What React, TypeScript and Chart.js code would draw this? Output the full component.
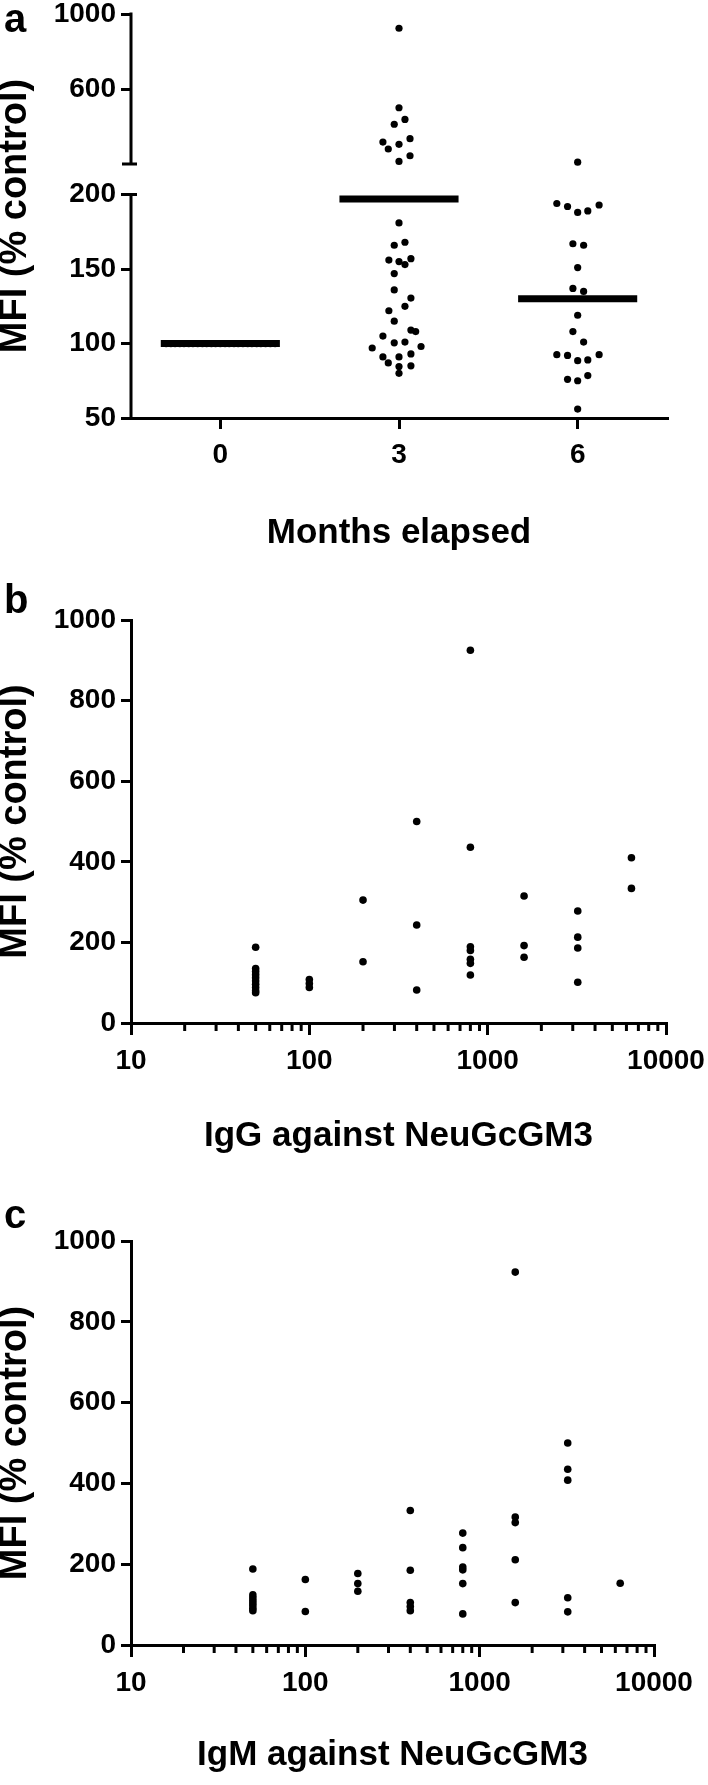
import React, { useEffect, useRef } from 'react';
import { Chart, registerables, LinearScale } from 'chart.js';

Chart.register(...registerables);

// ---------------- data ----------------
// Panel a: MFI (% control) by months elapsed
const monthCategories = [0, 3, 6];
const monthTickLabels = ['0', '3', '6'];
const monthMeans = [100, 197, 130];

const month0Values = [100, 100, 100, 100, 100, 100, 100, 100, 100, 100, 100, 100, 100, 100, 100, 100, 100, 100, 100, 100, 100, 100, 100, 100, 100];
const month0Offsets = [-0.91, -0.83, -0.76, -0.68, -0.61, -0.53, -0.46, -0.38, -0.3, -0.23, -0.15, -0.08, 0, 0.08, 0.15, 0.23, 0.3, 0.38, 0.46, 0.53, 0.61, 0.68, 0.76, 0.84, 0.92];

const month3Values = [924, 500, 412, 438, 317, 280, 305, 335, 214, 244,
  181, 166, 168, 156, 155, 153, 157, 147, 136, 130.5, 125, 122, 115, 109, 108, 105, 100.5, 101, 97, 98, 91, 87, 91, 93, 84.5, 85, 80];
const month3Offsets = [0, 0, -0.08, 0.1, -0.27, -0.18, 0, 0.185, 0, 0.185,
  0, -0.08, 0.1, -0.17, 0, 0.1, 0.2, -0.08, -0.08, 0.2, 0.1, -0.17, -0.08, 0.2, 0.28, -0.27, -0.08, 0.1, -0.45, 0.37, -0.27, -0.18, 0, 0.2, 0, 0.2, 0];

const month6Values = [210, 194, 192, 188, 189, 193, 167, 166, 151, 137, 135, 119, 108, 101, 92.5, 92, 88.5, 89, 92.5, 76, 75, 78.5, 56];
const month6Offsets = [0, -0.35, -0.17, 0, 0.17, 0.36, -0.08, 0.1, 0, -0.08, 0.1, 0, -0.08, 0.1, -0.35, -0.17, 0, 0.17, 0.36, -0.17, 0, 0.17, 0];

const brokenYTicks = [50, 100, 150, 200, 600, 1000];

// Panels b and c
const mfiTicks = [0, 200, 400, 600, 800, 1000];
const titreTicks = [10, 100, 1000, 10000];
const titreMinorTicks = [20, 30, 40, 50, 60, 70, 80, 90, 200, 300, 400, 500, 600, 700, 800, 900, 2000, 3000, 4000, 5000, 6000, 7000, 8000, 9000];

const iggTitre = [50, 50, 50, 50, 50, 50, 50, 50, 50, 50, 100, 100, 100, 200, 200, 400, 400, 400, 800, 800, 800, 800, 800, 800, 800, 1600, 1600, 1600, 3200, 3200, 3200, 3200, 6400, 6400];
const iggMfi = [188, 135, 128, 120, 112, 104, 96, 88, 80, 75, 108, 98, 88, 305, 152, 500, 243, 82, 925, 436, 189, 180, 158, 148, 119, 315, 192, 163, 278, 213, 186, 101, 410, 334];

const igmTitre = [50, 50, 50, 50, 50, 50, 50, 50, 100, 100, 200, 200, 200, 400, 400, 400, 400, 400, 800, 800, 800, 800, 800, 800, 1600, 1600, 1600, 1600, 1600, 3200, 3200, 3200, 3200, 3200, 6400];
const igmMfi = [188, 124, 117, 110, 104, 98, 91, 85, 162, 83, 177, 152, 133, 333, 185, 105, 95, 85, 277, 241, 193, 186, 152, 77, 923, 317, 303, 211, 105, 500, 435, 408, 117, 82, 153];

// ---------------- styling / layout constants ----------------
const FONT = "'Liberation Sans', Arial, Helvetica, sans-serif";
const tickFont = { family: FONT, size: 28, weight: 'bold' as const };
const yTitleFont = { family: FONT, size: 38, weight: 'bold' as const, lineHeight: 0.83 };
const xTitleFont = { family: FONT, size: 35, weight: 'bold' as const };
const BLACK = '#000';
const MEAN_HALF_WIDTH = 1;
// broken-axis geometry (fractions of the axis height)
const BRK = { lowMin: 50, lowMax: 200, highMin: 200, highMax: 1000, lowFrac: 0.553, highFrac: 0.3713 };

class BrokenLinearScale extends LinearScale {
  static id = 'brokenLinear';
  static defaults = {};
  buildTicks() {
    return brokenYTicks.map((v) => ({ value: v }));
  }
  getPixelForValue(value: any) {
    if (value === null || value === undefined || isNaN(value)) return NaN;
    const h = this.bottom - this.top;
    if (value <= BRK.lowMax) {
      const lowH = h * BRK.lowFrac;
      return this.bottom - ((value - BRK.lowMin) / (BRK.lowMax - BRK.lowMin)) * lowH;
    }
    const highH = h * BRK.highFrac;
    return this.top + ((BRK.highMax - value) / (BRK.highMax - BRK.highMin)) * highH;
  }
  getValueForPixel(pixel: number) {
    const h = this.bottom - this.top;
    const lowTop = this.bottom - h * BRK.lowFrac;
    if (pixel >= lowTop) {
      return BRK.lowMin + ((this.bottom - pixel) / (h * BRK.lowFrac)) * (BRK.lowMax - BRK.lowMin);
    }
    return BRK.highMax - ((pixel - this.top) / (h * BRK.highFrac)) * (BRK.highMax - BRK.highMin);
  }
}
Chart.register(BrokenLinearScale as any);

const panelLabelPlugin = {
  id: 'panelLabel',
  afterDraw(chart: any, _args: any, opts: any) {
    if (!opts || !opts.text) return;
    const ctx = chart.ctx;
    ctx.save();
    ctx.fillStyle = BLACK;
    ctx.font = `bold 40px ${FONT}`;
    ctx.textBaseline = 'alphabetic';
    ctx.textAlign = 'left';
    ctx.fillText(opts.text, opts.x, opts.y);
    ctx.restore();
  },
};

const brokenAxisPlugin = {
  id: 'brokenAxis',
  afterDraw(chart: any) {
    const s = chart.scales.y;
    const ctx = chart.ctx;
    const x = s.right;
    const highBottom = s.top + (s.bottom - s.top) * BRK.highFrac;
    const lowTop = s.getPixelForValue(BRK.lowMax);
    ctx.save();
    ctx.strokeStyle = BLACK;
    ctx.lineWidth = 3;
    ctx.lineCap = 'butt';
    ctx.beginPath();
    ctx.moveTo(x, s.top - 1.5);
    ctx.lineTo(x, highBottom + 1.5);
    ctx.moveTo(x, lowTop - 1.5);
    ctx.lineTo(x, s.bottom + 1.5);
    ctx.moveTo(x - 9, highBottom);
    ctx.lineTo(x + 6, highBottom);
    ctx.moveTo(x, lowTop);
    ctx.lineTo(x + 6, lowTop);
    ctx.stroke();
    ctx.restore();
  },
};

const minorTickPlugin = {
  id: 'minorTicks',
  afterDraw(chart: any) {
    const s = chart.scales.x;
    const ctx = chart.ctx;
    ctx.save();
    ctx.strokeStyle = BLACK;
    ctx.lineWidth = 3;
    for (const v of titreMinorTicks) {
      const px = s.getPixelForValue(v);
      ctx.beginPath();
      ctx.moveTo(px, s.top + 1);
      ctx.lineTo(px, s.top + 8);
      ctx.stroke();
    }
    ctx.restore();
  },
};

function yTitle() {
  return { display: true, text: 'MFI (% control)', font: yTitleFont, color: BLACK, padding: 0 };
}

function panelAConfig(): any {
  const groups = [
    { values: month0Values, offsets: month0Offsets },
    { values: month3Values, offsets: month3Offsets },
    { values: month6Values, offsets: month6Offsets },
  ];
  const meanSets = monthCategories.map((c, i) => ({
    type: 'line',
    data: [
      { x: c - MEAN_HALF_WIDTH, y: monthMeans[i] },
      { x: c + MEAN_HALF_WIDTH, y: monthMeans[i] },
    ],
    borderColor: BLACK,
    borderWidth: 7,
    borderCapStyle: 'butt',
    pointRadius: 0,
    fill: false,
    clip: false,
  }));
  const dotSets = groups.map((g, gi) => ({
    type: 'scatter',
    data: g.values.map((v, i) => ({ x: monthCategories[gi] + g.offsets[i], y: v })),
    backgroundColor: BLACK,
    borderColor: BLACK,
    pointRadius: 3.6,
    pointBorderWidth: 0,
    clip: false,
  }));
  return {
    type: 'scatter',
    data: { datasets: [...meanSets, ...dotSets] },
    options: {
      responsive: false,
      animation: false,
      layout: { padding: { top: 14, right: 41, left: 0, bottom: 0 } },
      plugins: { legend: { display: false }, tooltip: { enabled: false }, panelLabel: { text: 'a', x: 4, y: 32 } },
      scales: {
        x: {
          type: 'linear',
          min: -1.5,
          max: 7.5,
          afterBuildTicks: (s: any) => {
            s.ticks = monthCategories.map((v) => ({ value: v }));
          },
          ticks: {
            font: tickFont,
            color: BLACK,
            padding: 9,
            autoSkip: false,
            maxRotation: 0,
            callback: (v: number) => monthTickLabels[monthCategories.indexOf(v)] ?? '',
          },
          grid: { drawOnChartArea: false, tickLength: 11, tickWidth: 3, tickColor: BLACK, lineWidth: 3 },
          border: { display: true, width: 3, color: BLACK },
          title: { display: true, text: 'Months elapsed', font: xTitleFont, color: BLACK, padding: { top: 0, bottom: 5.5 } },
          afterFit: (s: any) => {
            s.height = 142;
            s.paddingLeft = 0;
            s.paddingRight = 0;
          },
        },
        y: {
          type: 'brokenLinear',
          min: 50,
          max: 1000,
          border: { display: false },
          grid: { drawOnChartArea: false, tickLength: 10, tickWidth: 3, tickColor: BLACK, lineWidth: 3 },
          ticks: { font: tickFont, color: BLACK, padding: 5, autoSkip: false, callback: (v: number) => String(v) },
          title: yTitle(),
          afterFit: (s: any) => {
            s.width = 131;
            s.paddingTop = 0;
            s.paddingBottom = 0;
          },
        },
      },
    },
    plugins: [brokenAxisPlugin, panelLabelPlugin],
  };
}

function logPanelConfig(
  titre: number[],
  mfi: number[],
  xTitle: string,
  label: string,
  labelY: number,
  padTop: number,
  padRight: number,
  xHeight: number,
  titlePadBottom: number
): any {
  return {
    type: 'scatter',
    data: {
      datasets: [
        {
          data: titre.map((t, i) => ({ x: t, y: mfi[i] })),
          backgroundColor: BLACK,
          borderColor: BLACK,
          pointRadius: 3.8,
          pointBorderWidth: 0,
          clip: false,
        },
      ],
    },
    options: {
      responsive: false,
      animation: false,
      layout: { padding: { top: padTop, right: padRight, left: 0, bottom: 0 } },
      plugins: { legend: { display: false }, tooltip: { enabled: false }, panelLabel: { text: label, x: 4, y: labelY } },
      scales: {
        x: {
          type: 'logarithmic',
          min: 10,
          max: 10000,
          afterBuildTicks: (s: any) => {
            s.ticks = [...titreTicks, ...titreMinorTicks]
              .sort((a, b) => a - b)
              .map((v) => ({ value: v, major: titreTicks.includes(v) }));
          },
          ticks: {
            font: tickFont,
            color: BLACK,
            padding: 9,
            autoSkip: false,
            maxRotation: 0,
            callback: (v: number) => (titreTicks.includes(v) ? String(v) : ''),
          },
          grid: {
            drawOnChartArea: false,
            tickLength: 12,
            tickWidth: 3,
            lineWidth: 3,
            tickColor: (ctx: any) => (ctx.tick && titreTicks.includes(ctx.tick.value) ? BLACK : 'rgba(0,0,0,0)'),
          },
          border: { display: true, width: 3, color: BLACK },
          title: { display: true, text: xTitle, font: xTitleFont, color: BLACK, padding: { top: 0, bottom: titlePadBottom } },
          afterFit: (s: any) => {
            s.height = xHeight;
            s.paddingLeft = 0;
            s.paddingRight = 0;
          },
        },
        y: {
          type: 'linear',
          min: 0,
          max: 1000,
          afterBuildTicks: (s: any) => {
            s.ticks = mfiTicks.map((v) => ({ value: v }));
          },
          border: { display: true, width: 3, color: BLACK },
          grid: { drawOnChartArea: false, tickLength: 10, tickWidth: 3, tickColor: BLACK, lineWidth: 3 },
          ticks: { font: tickFont, color: BLACK, padding: 5, autoSkip: false, callback: (v: number) => String(v) },
          title: yTitle(),
          afterFit: (s: any) => {
            s.width = 131;
            s.paddingTop = 0;
            s.paddingBottom = 0;
          },
        },
      },
    },
    plugins: [minorTickPlugin, panelLabelPlugin],
  };
}

function ChartCanvas({ top, height, makeConfig }: { top: number; height: number; makeConfig: () => any }) {
  const ref = useRef<HTMLCanvasElement | null>(null);
  useEffect(() => {
    if (!ref.current) return;
    const chart = new Chart(ref.current, makeConfig());
    return () => chart.destroy();
  }, []);
  return (
    <canvas
      ref={ref}
      width={708}
      height={height}
      style={{ position: 'absolute', left: 0, top, width: 708, height, display: 'block' }}
    />
  );
}

export default function App() {
  return (
    <div style={{ position: 'absolute', left: 0, top: 0, width: 708, height: 1785, background: '#fff', overflow: 'hidden' }}>
      <ChartCanvas top={0} height={560} makeConfig={panelAConfig} />
      <ChartCanvas
        top={560}
        height={630}
        makeConfig={() => logPanelConfig(iggTitre, iggMfi, 'IgG against NeuGcGM3', 'b', 53, 60, 42, 167, 33)}
      />
      <ChartCanvas
        top={1190}
        height={595}
        makeConfig={() => logPanelConfig(igmTitre, igmMfi, 'IgM against NeuGcGM3', 'c', 38, 51, 54, 140, 8.5)}
      />
    </div>
  );
}
